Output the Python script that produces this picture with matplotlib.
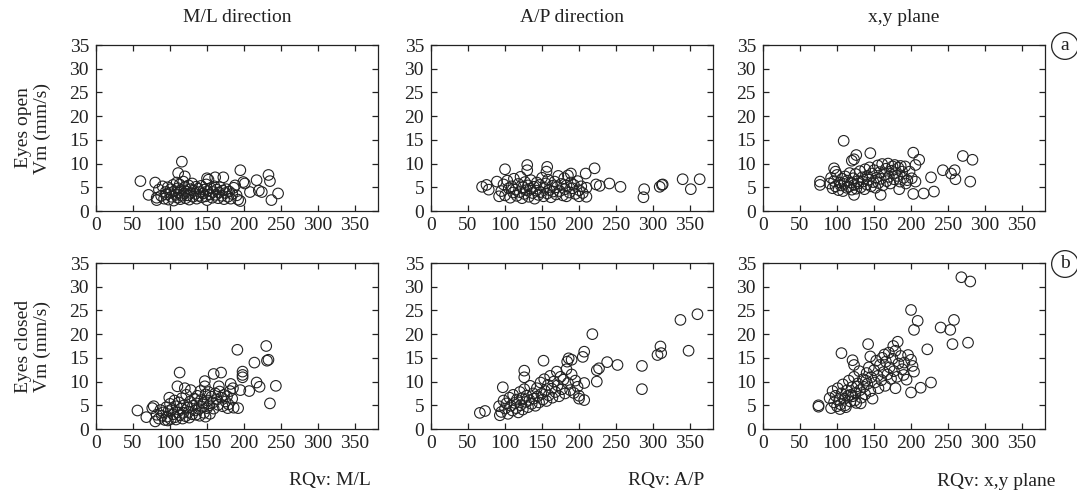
import matplotlib
matplotlib.use("Agg")
import matplotlib.pyplot as plt
import numpy as np

# (RQv, Vm) pairs, one list per panel
ml_open = [
    (60, 6.3), (116, 10.4), (195, 8.6), (233, 7.6), (235, 6.3), (246, 3.7), (237, 2.3),
    (217, 6.5), (220, 4.3), (224, 4.0), (208, 4.0), (199, 6.1), (201, 5.8), (195, 2.1),
    (172, 7.1), (161, 7.1), (150, 6.9), (111, 8.0), (120, 7.3), (80, 6.0), (71, 3.4),
    (82, 2.3), (82, 2.8),
    (85, 4.5), (88, 3.2), (90, 5.2), (92, 2.6), (94, 4.0), (95, 3.5), (97, 5.0), (98, 2.4),
    (100, 3.8), (101, 4.6), (102, 3.0), (104, 5.5), (105, 2.2), (106, 4.2), (108, 3.4),
    (109, 6.0), (110, 2.8), (111, 4.8), (112, 3.9), (113, 5.6), (114, 2.5), (115, 4.4),
    (116, 3.2), (118, 6.2), (119, 3.7), (120, 5.0), (121, 2.7), (122, 4.1), (124, 3.3),
    (125, 5.4), (126, 2.4), (127, 4.6), (128, 3.8), (130, 5.8), (131, 3.0), (132, 4.3),
    (134, 3.6), (135, 5.1), (136, 2.6), (138, 4.7), (139, 3.2), (140, 4.0), (142, 5.3),
    (143, 2.9), (145, 3.7), (146, 4.5), (148, 3.1), (149, 5.6), (150, 2.3), (151, 4.2),
    (152, 6.6), (154, 3.5), (155, 4.8), (157, 2.8), (158, 4.0), (160, 5.2), (162, 3.4),
    (163, 4.5), (165, 2.7), (166, 3.9), (168, 5.0), (170, 3.2), (171, 4.3), (173, 2.5),
    (175, 3.8), (176, 4.6), (178, 3.0), (180, 4.1), (182, 2.6), (184, 3.6), (186, 4.9),
    (188, 5.4), (190, 3.3), (192, 2.4),
]

ap_open = [
    (69, 5.1), (75, 5.5), (78, 4.5), (100, 8.8), (130, 9.7), (130, 8.6), (157, 9.3),
    (156, 8.3), (189, 7.9), (209, 7.9), (221, 9.0), (210, 4.9), (210, 3.0), (223, 5.6),
    (228, 5.3), (241, 5.8), (256, 5.1), (288, 4.6), (287, 2.9), (309, 5.1), (312, 5.5),
    (313, 5.6), (340, 6.7), (351, 4.6), (363, 6.7), (92, 3.1), (89, 6.2), (200, 3.1),
    (183, 3.1),
    (95, 4.2), (98, 5.6), (100, 3.3), (103, 6.4), (105, 4.8), (107, 2.8), (109, 5.2),
    (111, 3.9), (112, 6.8), (114, 4.5), (116, 3.2), (118, 5.7), (120, 4.0), (121, 7.2),
    (123, 2.7), (124, 5.0), (126, 3.6), (127, 6.1), (129, 4.4), (131, 5.4), (132, 3.0),
    (134, 4.7), (135, 6.5), (137, 3.8), (139, 5.1), (140, 2.6), (142, 4.3), (143, 6.0),
    (145, 3.4), (147, 5.5), (148, 4.0), (150, 7.0), (152, 3.1), (153, 4.9), (155, 5.8),
    (157, 3.7), (158, 6.6), (160, 4.4), (162, 2.9), (164, 5.3), (165, 4.1), (167, 6.2),
    (169, 3.5), (170, 5.0), (172, 7.4), (174, 4.2), (176, 5.7), (178, 3.3), (180, 6.9),
    (181, 4.6), (183, 5.4), (185, 7.5), (187, 3.9), (189, 6.0), (191, 4.8), (193, 5.5),
    (195, 3.6), (198, 6.3), (200, 4.4), (203, 5.2), (205, 3.8),
]

xy_open = [
    (109, 14.8), (145, 12.2), (126, 11.8), (123, 10.9), (120, 10.6), (203, 12.3),
    (211, 10.8), (206, 9.7), (270, 11.6), (283, 10.8), (243, 8.6), (259, 8.6), (254, 7.9),
    (260, 6.7), (280, 6.2), (227, 7.1), (231, 4.1), (217, 3.7), (203, 3.6), (198, 8.3),
    (201, 6.9), (206, 6.2), (193, 5.8), (184, 4.6), (77, 6.2), (77, 5.5), (96, 9.0),
    (98, 8.3), (159, 3.4), (123, 3.4), (186, 9.5), (178, 9.7),
    (90, 5.8), (92, 7.0), (94, 4.8), (96, 6.3), (98, 5.2), (100, 7.6), (102, 4.4),
    (104, 6.0), (105, 5.4), (107, 6.8), (108, 4.2), (110, 5.7), (111, 7.3), (113, 4.9),
    (114, 6.4), (116, 5.1), (117, 8.0), (119, 6.0), (120, 4.5), (122, 6.9), (123, 5.5),
    (125, 7.8), (126, 4.7), (128, 6.3), (129, 5.8), (131, 8.4), (132, 5.0), (134, 7.1),
    (135, 6.2), (137, 4.6), (138, 8.8), (140, 5.6), (141, 7.4), (143, 6.6), (144, 9.2),
    (146, 5.2), (147, 7.9), (149, 6.1), (150, 8.6), (152, 4.9), (153, 7.0), (155, 9.6),
    (156, 5.9), (158, 8.2), (159, 6.8), (161, 9.9), (162, 5.4), (164, 7.6), (166, 8.9),
    (167, 6.3), (169, 10.0), (170, 7.2), (172, 5.8), (174, 8.5), (175, 9.4), (177, 6.7),
    (179, 8.0), (181, 7.4), (183, 9.1), (185, 6.2), (188, 8.3), (190, 7.0), (192, 9.4),
    (195, 6.5),
]

ml_closed = [
    (56, 3.9), (68, 2.5), (78, 4.8), (76, 4.4), (113, 11.9), (159, 11.6), (169, 11.9),
    (191, 16.7), (230, 17.5), (214, 14.0), (231, 14.4), (233, 14.6), (198, 12.1),
    (198, 11.4), (198, 10.9), (243, 9.1), (235, 5.4), (217, 9.8), (221, 8.9), (207, 8.0),
    (192, 4.4), (147, 10.1), (147, 9.0), (182, 9.5), (195, 8.2), (185, 8.6), (110, 9.0),
    (148, 2.6), (178, 4.4),
    (80, 1.6), (82, 3.0), (85, 2.2), (87, 4.0), (89, 2.8), (91, 3.5), (93, 1.9), (95, 4.6),
    (96, 2.6), (98, 3.8), (100, 5.3), (101, 2.1), (103, 4.2), (104, 3.1), (106, 6.0),
    (107, 2.5), (109, 4.8), (110, 3.5), (112, 5.6), (113, 2.9), (115, 4.3), (116, 6.5),
    (118, 3.4), (119, 5.0), (121, 2.7), (122, 7.2), (124, 4.5), (125, 3.6), (127, 5.8),
    (128, 8.2), (130, 3.1), (131, 4.9), (133, 6.4), (134, 3.9), (136, 5.4), (137, 7.0),
    (139, 4.2), (140, 2.8), (142, 6.1), (143, 4.7), (145, 5.5), (146, 3.4), (148, 7.3),
    (150, 4.4), (151, 6.0), (153, 5.0), (154, 3.2), (156, 6.8), (158, 5.6), (159, 4.3),
    (161, 7.5), (163, 6.2), (165, 5.1), (167, 7.9), (169, 6.6), (171, 4.8), (173, 7.2),
    (175, 5.8), (177, 6.9), (179, 5.2), (181, 8.0), (184, 6.4), (186, 4.5),
    (97, 1.8), (108, 2.0), (117, 2.2), (126, 2.4), (135, 3.0), (99, 6.6), (120, 8.6),
    (141, 8.0), (152, 7.8), (166, 9.0),
]

ap_closed = [
    (337, 23.0), (360, 24.2), (348, 16.5), (310, 17.4), (306, 15.6), (311, 16.0),
    (285, 13.3), (285, 8.4), (252, 13.5), (238, 14.1), (218, 20.0), (207, 16.3),
    (205, 15.2), (186, 14.9), (184, 14.2), (190, 14.6), (224, 12.4), (227, 12.8),
    (224, 10.0), (207, 9.7), (152, 14.4), (126, 12.3), (126, 10.9), (97, 8.8), (66, 3.4),
    (73, 3.8), (93, 2.9), (207, 6.1), (200, 6.4),
    (92, 4.8), (95, 3.6), (98, 6.0), (100, 4.3), (102, 5.4), (104, 3.2), (106, 6.6),
    (108, 4.9), (110, 3.9), (111, 7.2), (113, 5.5), (115, 4.4), (116, 6.2), (118, 3.5),
    (120, 7.8), (121, 5.0), (123, 6.5), (124, 4.1), (126, 8.4), (128, 5.7), (129, 7.0),
    (131, 4.6), (133, 6.1), (134, 9.1), (136, 5.3), (138, 7.5), (139, 6.4), (141, 4.9),
    (143, 8.6), (144, 6.9), (146, 5.6), (148, 9.8), (149, 7.4), (151, 6.2), (153, 10.5),
    (154, 8.0), (156, 5.9), (158, 9.3), (159, 7.1), (161, 11.2), (163, 8.5), (164, 6.6),
    (166, 10.0), (168, 7.8), (170, 12.1), (171, 9.2), (173, 6.9), (175, 11.0), (177, 8.4),
    (179, 10.4), (181, 7.5), (183, 12.6), (185, 9.7), (188, 8.2), (190, 11.5), (193, 7.6),
    (195, 10.2), (198, 8.9), (200, 7.0),
]

xy_closed = [
    (268, 32.0), (280, 31.1), (200, 25.1), (209, 22.8), (204, 20.9), (240, 21.4),
    (258, 23.0), (253, 20.9), (256, 17.9), (277, 18.2), (222, 16.8), (106, 16.0),
    (142, 17.9), (182, 18.4), (176, 17.5), (196, 15.6), (200, 14.6), (202, 13.3),
    (204, 12.1), (190, 11.4), (227, 9.8), (213, 8.7), (200, 7.7), (179, 8.6), (75, 4.7),
    (75, 5.0), (121, 14.5), (123, 13.5), (164, 15.7), (145, 15.3),
    (90, 6.5), (92, 4.4), (94, 8.0), (96, 5.6), (98, 7.0), (100, 4.8), (101, 8.6),
    (103, 6.1), (105, 5.2), (106, 7.5), (108, 9.4), (110, 6.4), (111, 5.0), (113, 8.1),
    (115, 7.0), (116, 10.2), (118, 5.8), (120, 8.8), (121, 6.9), (123, 11.0), (125, 7.6),
    (126, 5.5), (128, 9.6), (130, 12.2), (131, 8.2), (133, 6.6), (135, 10.5), (136, 8.9),
    (138, 7.3), (140, 11.8), (141, 9.5), (143, 13.0), (145, 8.0), (146, 10.9), (148, 6.4),
    (150, 12.4), (151, 9.8), (153, 14.4), (155, 11.2), (156, 8.6), (158, 13.5),
    (160, 10.3), (161, 15.0), (163, 12.0), (165, 9.1), (166, 14.2), (168, 11.5),
    (170, 16.1), (171, 13.0), (173, 10.6), (175, 14.8), (177, 12.2), (179, 16.5),
    (181, 11.0), (183, 13.8), (186, 15.4), (188, 12.6), (191, 14.0), (194, 10.4),
    (104, 4.2), (112, 4.6), (118, 7.2), (124, 6.0), (132, 5.4), (127, 9.0), (139, 10.2),
]

col_titles = ["M/L direction", "A/P direction", "x,y plane"]
row_labels = ["Eyes open\nVm (mm/s)", "Eyes closed\nVm (mm/s)"]
x_labels = ["RQv: M/L", "RQv: A/P", "RQv: x,y plane"]
panel_tags = ["a", "b"]
x_ticks = [0, 50, 100, 150, 200, 250, 300, 350]
y_ticks = [0, 5, 10, 15, 20, 25, 30, 35]

panels = [[ml_open, ap_open, xy_open], [ml_closed, ap_closed, xy_closed]]

plt.rcParams["font.family"] = ["Liberation Serif", "DejaVu Serif"]
W, H = 1077, 496
fig = plt.figure(figsize=(W / 100, H / 100), dpi=100)

lefts = [96, 431, 763]
tops = [45, 263]
pw, ph = 282, 166

for r in range(2):
    for c in range(3):
        ax = fig.add_axes([lefts[c] / W, 1 - (tops[r] + ph) / H, pw / W, ph / H])
        pts = np.array(panels[r][c])
        ax.scatter(pts[:, 0], pts[:, 1], s=58, facecolors="none",
                   edgecolors="#222222", linewidths=0.8, clip_on=False)
        ax.set_xlim(0, 381)
        ax.set_ylim(0, 35)
        ax.set_xticks(x_ticks)
        ax.set_yticks(y_ticks)
        ax.tick_params(direction="in", top=True, right=True, length=4.5,
                       width=0.9, labelsize=14, colors="#222222")
        ax.tick_params(axis="x", pad=4)
        ax.tick_params(axis="y", pad=5)
        for sp in ax.spines.values():
            sp.set_linewidth(0.9)
            sp.set_color("#222222")

for c in range(3):
    fig.text((lefts[c] + pw / 2) / W, 1 - 18 / H, col_titles[c], ha="center",
             va="center", fontsize=14, color="#222222")

for r in range(2):
    fig.text(33 / W, 1 - (tops[r] + ph / 2) / H, row_labels[r], rotation=90,
             ha="center", va="center", fontsize=14, linespacing=1.1, color="#222222")
    fig.text(1065 / W, 1 - (tops[r] + 1) / H, panel_tags[r], ha="center", va="center",
             fontsize=14, color="#222222",
             bbox=dict(boxstyle="circle,pad=0.25", fc="white", ec="#222222", lw=0.9))

x_label_right = [371, 704, 1055]
for c in range(3):
    fig.text(x_label_right[c] / W, 1 - 481 / H, x_labels[c], ha="right",
             va="center", fontsize=14, color="#222222")

fig.savefig("out.png", dpi=100)
